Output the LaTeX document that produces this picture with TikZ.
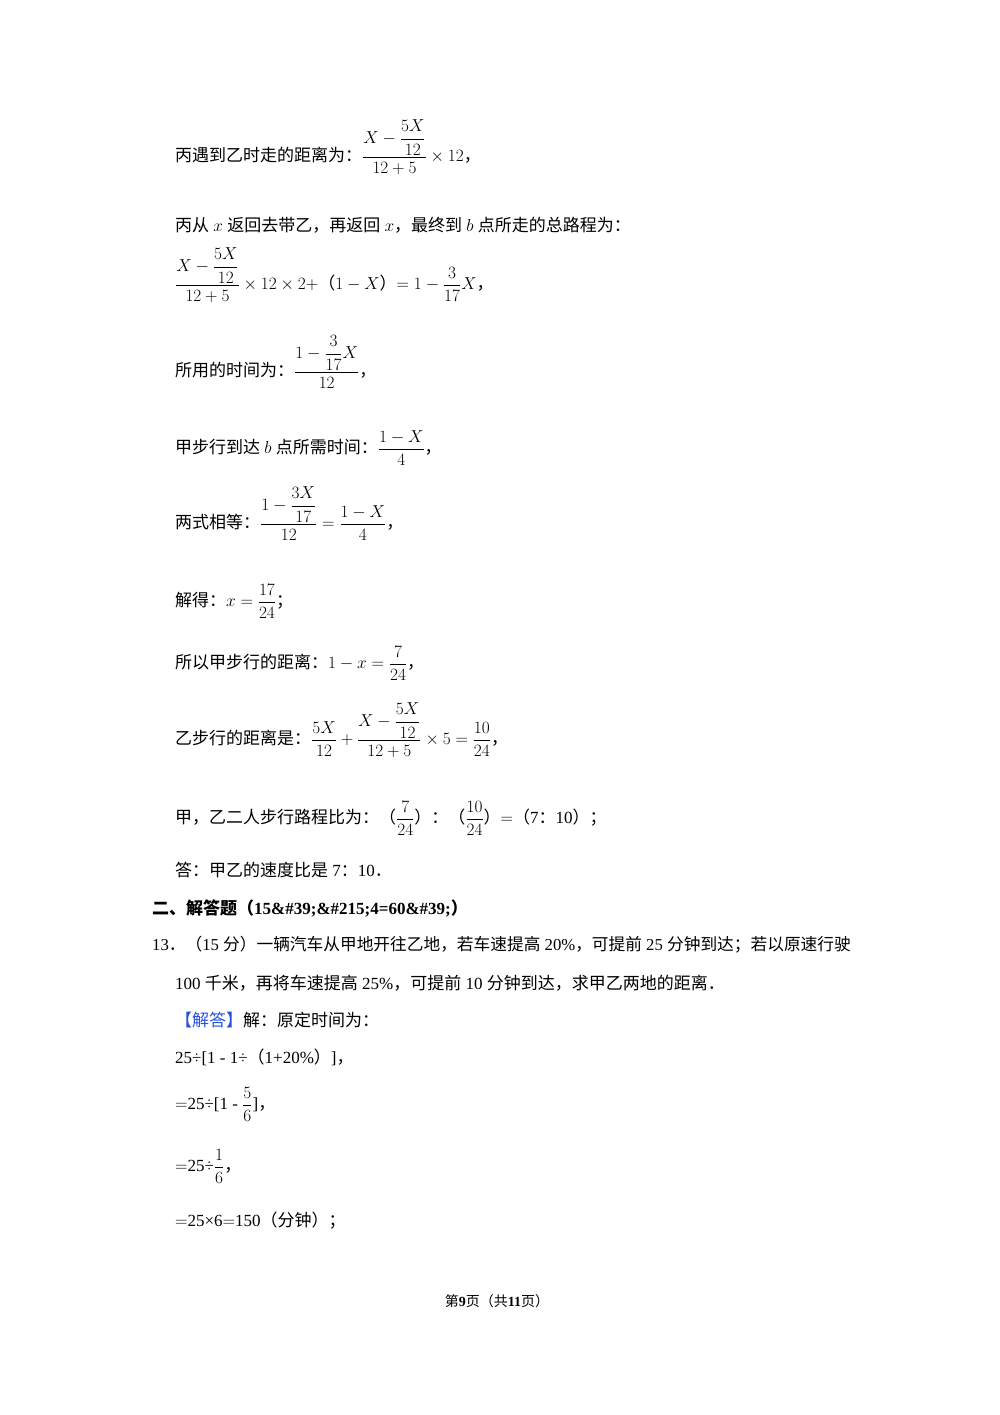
\documentclass[tikz,border=0pt]{standalone}
\usepackage{amsmath}
\usepackage{fontspec}
\setmainfont{Liberation Serif}
\newfontfamily\cjk{Noto Sans CJK SC}
\newcommand\zh[1]{{\cjk #1}}
\definecolor{ansblue}{RGB}{40,80,220}
\begin{document}
\begin{tikzpicture}[x=1pt,y=1pt,
  txt/.style={anchor=base west,inner sep=0pt,font=\fontsize{17}{20}\selectfont}]
\useasboundingbox (0,0) rectangle (1000,1415);
\fill[white] (0,0) rectangle (1000,1415);
\begin{scope}[yshift=-7pt]
\node[txt] (l1) at (175,1415-155) {\zh{丙遇到乙时走的距离为：}$\dfrac{X-\dfrac{5X}{12}}{12+5}\times12$\zh{，}};
\node[txt] (l2) at (175,1415-225) {\zh{丙从} $x$ \zh{返回去带乙，再返回} $x$\zh{，最终到} $b$ \zh{点所走的总路程为：}};
\node[txt] (l3) at (175,1415-283) {$\dfrac{X-\dfrac{5X}{12}}{12+5}\times12\times2+$\zh{（}$1-X$\zh{）}$=1-\dfrac{3}{17}X$\zh{，}};
\node[txt] (l4) at (175,1415-370) {\zh{所用的时间为：}$\dfrac{1-\dfrac{3}{17}X}{12}$\zh{，}};
\node[txt] (l5) at (175,1415-447) {\zh{甲步行到达} $b$ \zh{点所需时间：}$\dfrac{1-X}{4}$\zh{，}};
\node[txt] (l6) at (175,1415-522) {\zh{两式相等：}$\dfrac{1-\dfrac{3X}{17}}{12}=\dfrac{1-X}{4}$\zh{，}};
\node[txt] (l7) at (175,1415-600) {\zh{解得：}$x=\dfrac{17}{24}$\zh{；}};
\node[txt] (l8) at (175,1415-662) {\zh{所以甲步行的距离：}$1-x=\dfrac{7}{24}$\zh{，}};
\node[txt] (l9) at (175,1415-738) {\zh{乙步行的距离是：}$\dfrac{5X}{12}+\dfrac{X-\dfrac{5X}{12}}{12+5}\times5=\dfrac{10}{24}$\zh{，}};
\node[txt] (l10) at (175,1415-817) {\zh{甲，乙二人步行路程比为：（}$\dfrac{7}{24}$\zh{）：（}$\dfrac{10}{24}$\zh{）}$=$\zh{（}7\zh{：}10\zh{）；}};
\node[txt] (l11) at (175,1415-870) {\zh{答：甲乙的速度比是} 7\zh{：}10\zh{．}};
\node[txt,font=\fontsize{17}{20}\selectfont\bfseries] (l12) at (152,1415-908) {\zh{\bfseries 二、解答题（}15\&\#39;\&\#215;4=60\&\#39;\zh{\bfseries ）}};
\node[txt,font=\fontsize{16.7}{20}\selectfont] (l13) at (152,1415-944) {13\zh{．（}15 \zh{分）一辆汽车从甲地开往乙地，若车速提高} 20\%\zh{，可提前} 25 \zh{分钟到达；若以原速行驶}};
\node[txt] (l14) at (175,1415-983) {100 \zh{千米，再将车速提高} 25\%\zh{，可提前} 10 \zh{分钟到达，求甲乙两地的距离．}};
\node[txt] (l15) at (175,1415-1020) {\textcolor{ansblue}{\zh{【解答】}}\zh{解：原定时间为：}};
\node[txt] (l16) at (175,1415-1057) {25÷[1 - 1÷\zh{（}1+20\%\zh{）}]\zh{，}};
\node[txt] (l17) at (175,1415-1103) {$=$25÷[1 - $\dfrac{5}{6}$]\zh{，}};
\node[txt] (l18) at (175,1415-1165) {$=$25÷$\dfrac{1}{6}$\zh{，}};
\node[txt] (l19) at (175,1415-1220) {$=$25×6$=$150\zh{（分钟）；}};
\end{scope}
\node[anchor=base,inner sep=0pt,font=\fontsize{14}{16}\selectfont] (ft) at (497,1415-1307) {\zh{第}\textbf{9}\zh{页（共}\textbf{11}\zh{页）}};
\end{tikzpicture}
\end{document}
